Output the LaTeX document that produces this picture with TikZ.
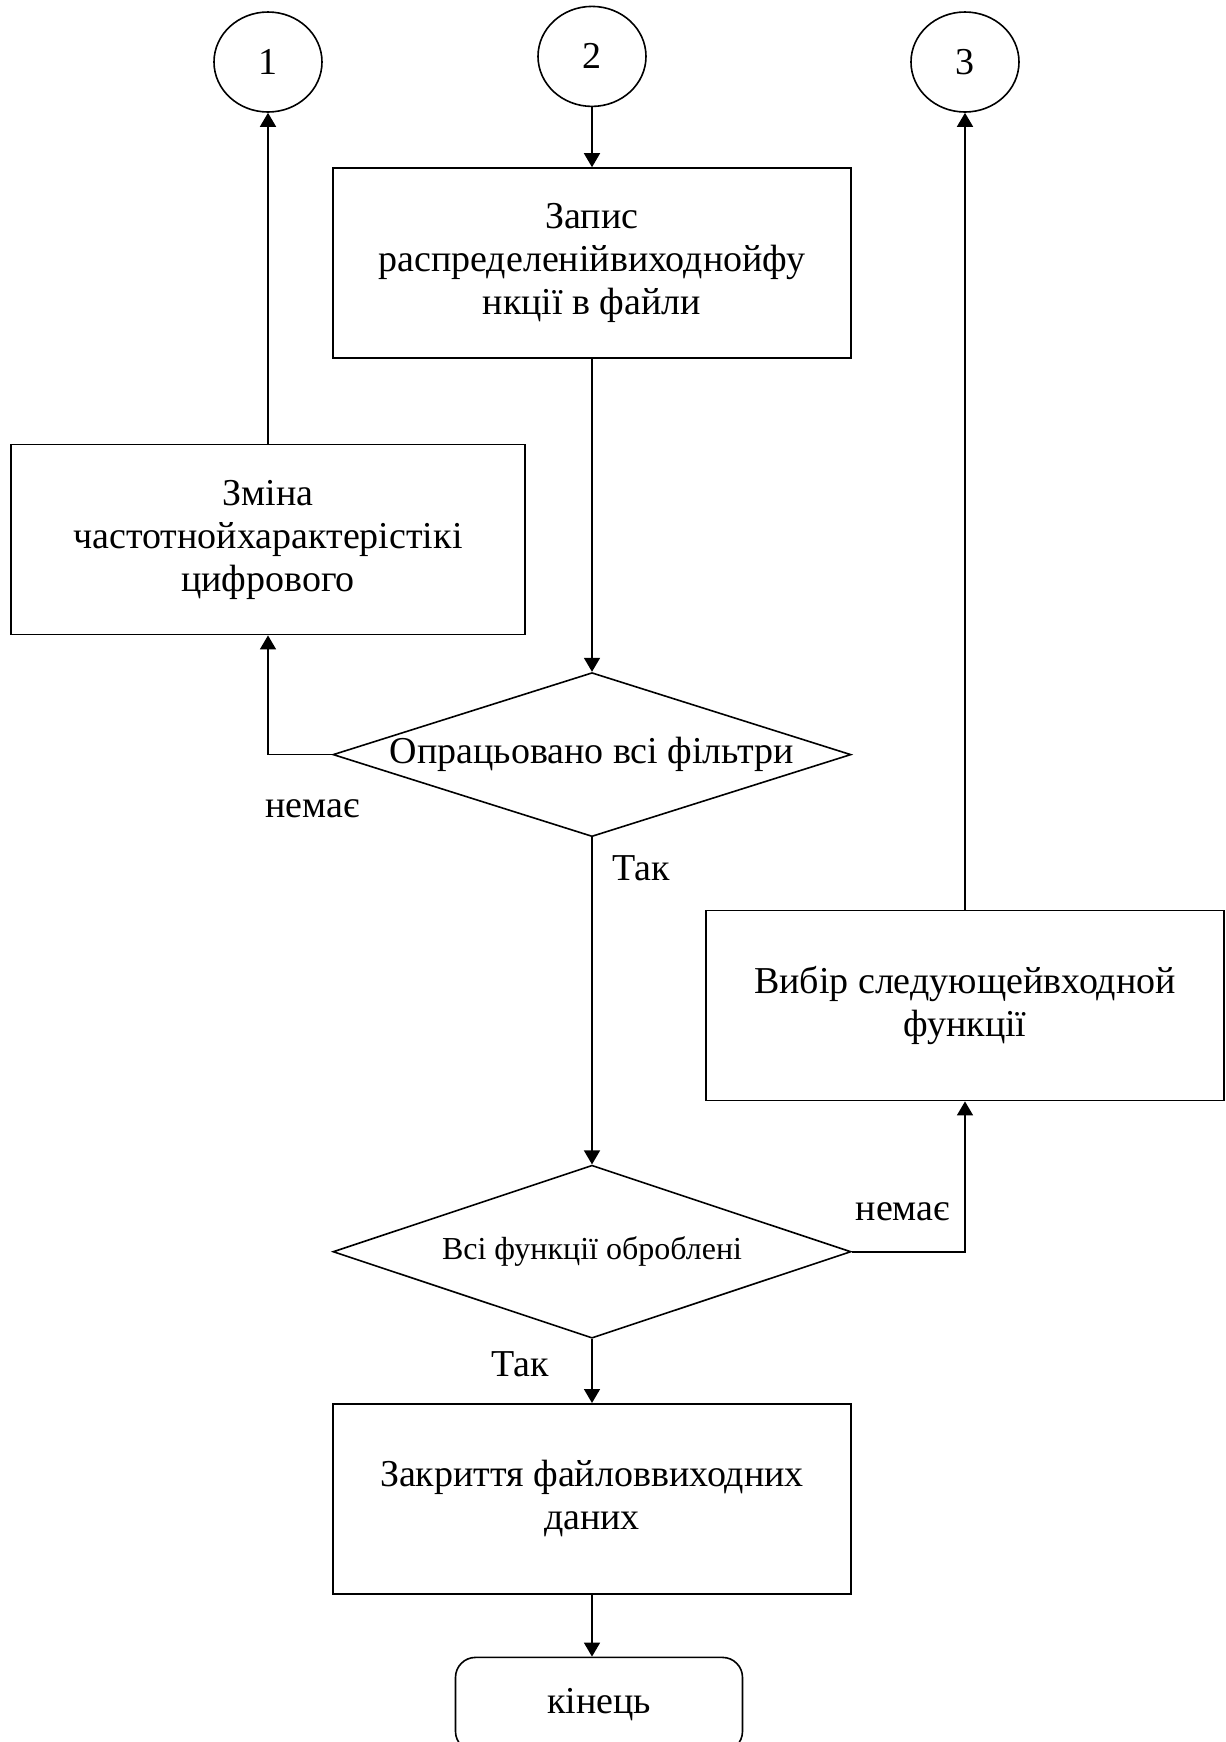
\documentclass[tikz,border=0pt]{standalone}
\usepackage{fontspec}
\setmainfont{Liberation Serif}
\usetikzlibrary{positioning,arrows.meta,shapes.geometric}

\begin{document}
\begin{tikzpicture}[>={Triangle[length=7pt,width=8pt]}, x=1pt, y=1pt, line width=0.8pt,
    every node/.style={font=\fontsize{19}{21.5}\selectfont}]
  % shapes of the scheme
  \tikzset{block/.style={draw, minimum width=259pt, minimum height=95pt, align=center, inner sep=2pt},
    connector/.style={draw, ellipse, minimum width=54pt, minimum height=50pt, inner sep=0pt},
    decision/.style={draw, diamond, minimum width=259pt, minimum height=82pt, inner sep=0pt},
    endbox/.style={draw, rounded corners=10pt, minimum width=143.5pt, minimum height=47pt}}
  \useasboundingbox (0,0) rectangle (613,-871);

  % main column
  \node[block] (rec) at (296,-131.5) {Запис\\распределенійвиходнойфу\\нкції в файли};
  \node[connector, above=30pt of rec] (c2) {2};
  \node[decision, below=156.5pt of rec, label={center:Опрацьовано всі фільтри}] (dec1) {};
  \node[decision, below=163.5pt of dec1, minimum height=86.5pt,
    label={[font=\fontsize{16}{18}\selectfont]center:Всі функції оброблені}] (dec2) {};
  \node[block, below=32pt of dec2] (close) {Закриття файловвиходних\\даних};
  \node[endbox, below=31pt of close, xshift=3.5pt] (fin) {кінець};

  % side columns
  \node[connector] (c1) at (134,-31) {1};
  \node[block, below=165.5pt of c1, minimum width=257pt] (chg) {Зміна\\частотнойхарактерістікі\\цифрового};
  \node[connector] (c3) at (482.5,-31) {3};
  \node[block, below=398.5pt of c3] (next) {Вибір следующейвходной\\функції};

  % connectors
  \draw[->] (c2) -- (rec);
  \draw[->] (rec) -- (dec1);
  \draw[->] (dec1.west) -| (chg.south);
  \draw[->] (chg) -- (c1);
  \draw[->] (dec1) -- (dec2);
  \draw[->] (dec2.east) -| (next.south);
  \draw[->] (next) -- (c3);
  \draw[->] (dec2) -- (close);
  \draw[->] (close) -- (close.south |- fin.north);

  % branch labels
  \node (no1) at ([xshift=-10pt, yshift=-27pt]dec1.west) {немає};
  \node (yes1) at ([xshift=24.5pt, yshift=-15.5pt]dec1.south) {Так};
  \node (no2) at ([xshift=25.5pt, yshift=20pt]dec2.east) {немає};
  \node (yes2) at ([xshift=-36pt, yshift=-12.5pt]dec2.south) {Так};
\end{tikzpicture}
\end{document}
